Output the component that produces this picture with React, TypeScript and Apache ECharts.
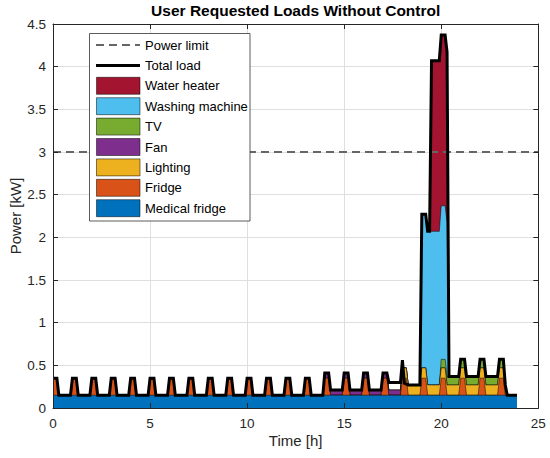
import React, { useEffect, useRef } from "react";
import * as echarts from "echarts";

// ---------------- data (time in hours, power in kW) ----------------
const timeStepHours = 0.1;
const lastSampleHour = 23.9;

const medicalFridgePowerKW = 0.15;
const fridgePowerKW = 0.2;
const lightingPowerKW = 0.12;
const fanPowerKW = 0.06;
const tvPowerKW = 0.1;
const washingMachinePowerKW = 1.8;
const waterHeaterPowerKW = 2.0;

// on-periods: [first "on" sample, last "on" sample] in hours
const medicalFridgeOn: number[][] = [[0, 23.9]];
const fridgeOn: number[][] = [
  [0, 0.2], [1, 1.2], [2, 2.2], [3, 3.2], [4, 4.2], [5, 5.2], [6, 6.2], [7, 7.2],
  [8, 8.2], [9, 9.2], [10, 10.2], [11, 11.2], [12, 12.2], [13, 13.2], [14, 14.2], [15, 15.2],
  [16, 16.2], [17, 17.2], [18, 18.2], [19, 19.2], [20, 20.2], [21, 21.2], [22, 22.2], [23, 23.2],
];
const lightingOn: number[][] = [[18.0, 23.3]];
const fanOn: number[][] = [[14.0, 17.9]];
const tvOn: number[][] = [[20.0, 23.2]];
const washingMachineOn: number[][] = [[19.0, 20.3]];
const waterHeaterOn: number[][] = [[19.5, 20.3]];

// readings of the black total-load curve where it departs from the stacked areas
const totalLoadReadings: number[][] = [
  [17.3, 0.3], [17.4, 0.3], [17.5, 0.3], [17.6, 0.3], [17.7, 0.3], [17.8, 0.3],
  [17.9, 0.3], [18.0, 0.56], [18.1, 0.29], [18.2, 0.28],
];

const powerLimitKW = 3;
const powerLimitSpanHours = [0, 25];

const xTickValues = [0, 5, 10, 15, 20, 25];
const yTickValues = [0, 0.5, 1, 1.5, 2, 2.5, 3, 3.5, 4, 4.5];

// ---------------- styles ----------------
const FONT = '"Liberation Sans", Arial, Helvetica, sans-serif';
const AXIS_COLOR = "#262626";

const layerDefs = [
  { name: "Medical fridge", color: "#0072BD", kw: medicalFridgePowerKW, on: medicalFridgeOn },
  { name: "Fridge", color: "#D95319", kw: fridgePowerKW, on: fridgeOn },
  { name: "Lighting", color: "#EDB120", kw: lightingPowerKW, on: lightingOn },
  { name: "Fan", color: "#7E2F8E", kw: fanPowerKW, on: fanOn },
  { name: "TV", color: "#77AC30", kw: tvPowerKW, on: tvOn },
  { name: "Washing machine", color: "#4DBEEE", kw: washingMachinePowerKW, on: washingMachineOn },
  { name: "Water heater", color: "#A2142F", kw: waterHeaterPowerKW, on: waterHeaterOn },
];

function buildOption() {
  const n = Math.round(lastSampleHour / timeStepHours) + 1;
  const times = Array.from({ length: n }, (_, i) => Math.round(i * timeStepHours * 1000) / 1000);
  const isOn = (t: number, intervals: number[][]) =>
    intervals.some(([a, b]) => t >= a - 1e-6 && t <= b + 1e-6);

  const layerValues = layerDefs.map((l) => times.map((t) => (isOn(t, l.on) ? l.kw : 0)));
  const cumulative: number[][] = [];
  layerValues.forEach((vals, k) => {
    cumulative.push(vals.map((v, i) => v + (k > 0 ? cumulative[k - 1][i] : 0)));
  });
  const total = cumulative[cumulative.length - 1].slice();
  totalLoadReadings.forEach(([t, v]) => {
    const idx = times.findIndex((x) => Math.abs(x - t) < 1e-6);
    if (idx >= 0) total[idx] = v;
  });

  const areaSeries: any[] = [];
  for (let k = layerDefs.length - 1; k >= 0; k--) {
    areaSeries.push({
      type: "line",
      name: layerDefs[k].name,
      xAxisIndex: 0,
      yAxisIndex: 0,
      data: times.map((t, i) => [t, cumulative[k][i]]),
      symbol: "none",
      showSymbol: false,
      silent: true,
      z: 2 + (layerDefs.length - k),
      lineStyle: { width: 0.5, color: "#000" },
      areaStyle: { color: layerDefs[k].color, opacity: 1 },
    });
  }

  const xMin = xTickValues[0];
  const xMax = xTickValues[xTickValues.length - 1];
  const xInt = xTickValues[1] - xTickValues[0];
  const yMin = yTickValues[0];
  const yMax = yTickValues[yTickValues.length - 1];
  const yInt = yTickValues[1] - yTickValues[0];

  const hiddenPart = { show: false };
  const axisLine = { show: true, onZero: false, lineStyle: { color: AXIS_COLOR, width: 1 } };
  const axisTick = { show: true, inside: true, length: 5, lineStyle: { color: AXIS_COLOR, width: 1 } };

  // legend (drawn as graphic elements)
  const legendNames = ["Power limit", "Total load", ...layerDefs.map((l) => l.name).reverse()];
  const legendColors: Record<string, string> = {};
  layerDefs.forEach((l) => (legendColors[l.name] = l.color));
  const legendX = 89.5;
  const legendY = 33.5;
  const rowPitch = 20.4;
  const firstRow = 45;
  const legendEls: any[] = [
    {
      type: "rect",
      shape: { x: legendX, y: legendY, width: 160.5, height: 187.5 },
      style: { fill: "#fff", stroke: AXIS_COLOR, lineWidth: 0.75 },
      z: 100,
    },
  ];
  legendNames.forEach((name, r) => {
    const cy = firstRow + r * rowPitch;
    if (name === "Power limit") {
      legendEls.push({
        type: "line",
        shape: { x1: 96, y1: cy, x2: 140, y2: cy },
        style: { stroke: "#666666", lineWidth: 2, lineDash: [8, 5] },
        z: 101,
      });
    } else if (name === "Total load") {
      legendEls.push({
        type: "line",
        shape: { x1: 96, y1: cy, x2: 140, y2: cy },
        style: { stroke: "#000", lineWidth: 3 },
        z: 101,
      });
    } else {
      legendEls.push({
        type: "rect",
        shape: { x: 96.5, y: cy - 8.5, width: 43.5, height: 17 },
        style: { fill: legendColors[name], stroke: "#000", lineWidth: 0.5 },
        z: 101,
      });
    }
    legendEls.push({
      type: "text",
      x: 145,
      y: cy,
      style: {
        text: name,
        fill: "#000",
        font: `13px ${FONT}`,
        textAlign: "left",
        textVerticalAlign: "middle",
      },
      z: 101,
    });
  });

  return {
    animation: false,
    backgroundColor: "#ffffff",
    textStyle: { fontFamily: FONT },
    grid: {
      left: 53, right: 11.7, top: 24, bottom: 50,
      containLabel: false, outerBoundsMode: "none",
    },
    graphic: [
      {
        type: "text",
        x: 295.7,
        y: 10.5,
        style: {
          text: "User Requested Loads Without Control",
          fill: "#000",
          font: `bold 15.5px ${FONT}`,
          textAlign: "center",
          textVerticalAlign: "middle",
        },
        z: 100,
      },
      ...legendEls,
    ],
    xAxis: [
      {
        type: "value", min: xMin, max: xMax, interval: xInt, position: "bottom", z: 0,
        axisLine: hiddenPart, axisTick: hiddenPart, axisLabel: hiddenPart,
        splitLine: { show: true, lineStyle: { color: "#dfdfdf", width: 1 } },
      },
      {
        type: "value", min: xMin, max: xMax, interval: xInt, position: "bottom", z: 20,
        name: "Time [h]", nameLocation: "middle", nameGap: 25, nameMoveOverlap: false,
        nameTextStyle: { fontSize: 15, color: AXIS_COLOR, fontFamily: FONT },
        axisLine, axisTick,
        axisLabel: { show: true, fontSize: 13.5, color: AXIS_COLOR, margin: 8, fontFamily: FONT },
        splitLine: hiddenPart,
      },
      {
        type: "value", min: xMin, max: xMax, interval: xInt, position: "top", z: 20,
        axisLine, axisTick, axisLabel: hiddenPart, splitLine: hiddenPart,
      },
    ],
    yAxis: [
      {
        type: "value", min: yMin, max: yMax, interval: yInt, position: "left", z: 0,
        axisLine: hiddenPart, axisTick: hiddenPart, axisLabel: hiddenPart,
        splitLine: { show: true, lineStyle: { color: "#dfdfdf", width: 1 } },
      },
      {
        type: "value", min: yMin, max: yMax, interval: yInt, position: "left", z: 20,
        name: "Power [kW]", nameLocation: "middle", nameGap: 30, nameMoveOverlap: false,
        nameTextStyle: { fontSize: 15, color: AXIS_COLOR, fontFamily: FONT },
        axisLine, axisTick,
        axisLabel: { show: true, fontSize: 13.5, color: AXIS_COLOR, margin: 7, fontFamily: FONT },
        splitLine: hiddenPart,
      },
      {
        type: "value", min: yMin, max: yMax, interval: yInt, position: "right", z: 20,
        axisLine, axisTick, axisLabel: hiddenPart, splitLine: hiddenPart,
      },
    ],
    series: [
      ...areaSeries,
      {
        type: "line",
        name: "Power limit",
        xAxisIndex: 0,
        yAxisIndex: 0,
        data: powerLimitSpanHours.map((t) => [t, powerLimitKW]),
        symbol: "none",
        silent: true,
        z: 12,
        lineStyle: { color: "#666666", width: 2, type: [8, 5] },
      },
      {
        type: "line",
        name: "Total load",
        xAxisIndex: 0,
        yAxisIndex: 0,
        data: times.map((t, i) => [t, total[i]]),
        symbol: "none",
        silent: true,
        z: 13,
        lineStyle: { color: "#000", width: 3, join: "miter", miterLimit: 4 },
      },
    ],
  };
}

export default function App() {
  const ref = useRef<HTMLDivElement | null>(null);
  useEffect(() => {
    document.body.style.margin = "0";
    if (!ref.current) return;
    const chart = echarts.init(ref.current, undefined, { renderer: "svg" });
    chart.setOption(buildOption() as any);
    return () => {
      chart.dispose();
    };
  }, []);
  return <div ref={ref} style={{ width: 550, height: 458 }} />;
}
